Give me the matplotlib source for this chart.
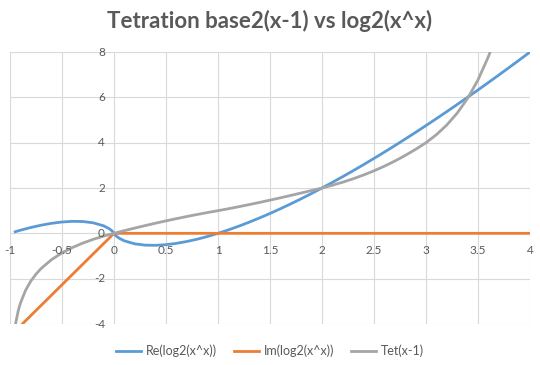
import matplotlib
matplotlib.use("Agg")
import matplotlib.pyplot as plt
from matplotlib.transforms import offset_copy

plt.rcParams["font.family"] = ["Lato", "DejaVu Sans"]

# values
x_re = [-0.95, -0.9, -0.8, -0.7, -0.6, -0.5, -0.4, -0.3, -0.2, -0.1, -0.05, -0.02, 0,
        0.02, 0.05, 0.1, 0.2, 0.3, 0.4, 0.5, 0.6, 0.7, 0.8, 0.9, 1.0,
        1.1, 1.2, 1.3, 1.4, 1.5, 1.6, 1.7, 1.8, 1.9, 2.0,
        2.1, 2.2, 2.3, 2.4, 2.5, 2.6, 2.7, 2.8, 2.9, 3.0,
        3.1, 3.2, 3.3, 3.4, 3.5, 3.6, 3.7, 3.8, 3.9, 4.0]
re_vals = [0.070, 0.137, 0.258, 0.360, 0.442, 0.500, 0.529, 0.521, 0.464, 0.332, 0.216, 0.113, 0,
           -0.113, -0.216, -0.332, -0.464, -0.521, -0.529, -0.500, -0.442, -0.360, -0.258, -0.137, 0,
           0.151, 0.316, 0.492, 0.680, 0.877, 1.085, 1.301, 1.526, 1.759, 2.000,
           2.248, 2.502, 2.764, 3.031, 3.305, 3.584, 3.869, 4.159, 4.455, 4.755,
           5.060, 5.370, 5.684, 6.003, 6.326, 6.653, 6.984, 7.319, 7.657, 8.000]

x_im = [-0.95, 0, 4]
im_vals = [-4.31, 0, 0]

x_tet = [-0.95, -0.92, -0.9, -0.85, -0.8, -0.75, -0.7, -0.6, -0.5, -0.4, -0.3, -0.2, -0.1, -0.05, -0.02, 0,
         0.02, 0.05, 0.1, 0.2, 0.3, 0.4, 0.5, 0.6, 0.7, 0.8, 0.9, 1.0,
         1.1, 1.2, 1.3, 1.4, 1.5, 1.6, 1.7, 1.8, 1.9, 2.0,
         2.1, 2.2, 2.3, 2.4, 2.5, 2.6, 2.7, 2.8, 2.9, 3.0,
         3.1, 3.2, 3.3, 3.4, 3.5, 3.6, 3.65, 3.7]
tet_vals = [-4.071, -3.40, -3.083, -2.510, -2.108, -1.798, -1.548, -1.158, -0.863, -0.626, -0.431, -0.265, -0.123, -0.060, -0.023, 0,
            0.024, 0.060, 0.118, 0.232, 0.342, 0.448, 0.550, 0.648, 0.742, 0.832, 0.918, 1.000,
            1.085, 1.175, 1.268, 1.364, 1.464, 1.567, 1.673, 1.780, 1.890, 2.000,
            2.122, 2.257, 2.407, 2.574, 2.759, 2.963, 3.188, 3.435, 3.705, 4.000,
            4.352, 4.780, 5.305, 5.955, 6.769, 7.796, 8.412, 9.111]

x_ticks = [-1, -0.5, 0, 0.5, 1, 1.5, 2, 2.5, 3, 3.5, 4]
x_tick_labels = ["-1", "-0.5", "0", "0.5", "1", "1.5", "2", "2.5", "3", "3.5", "4"]
y_ticks = [-4, -2, 0, 2, 4, 6, 8]

fig = plt.figure(figsize=(5.4, 3.65), dpi=100)
ax = fig.add_axes([10/540, 1 - 324/365, 520/540, 272/365])
ax.set_xlim(-1, 4)
ax.set_ylim(-4, 8)
ax.set_xticks(x_ticks)
ax.set_yticks(y_ticks)
ax.grid(True, color="#d9d9d9", lw=0.8)
ax.tick_params(length=0, labelbottom=False, labelleft=False)
for s in ax.spines.values():
    s.set_visible(False)

ax.plot(x_re, re_vals, color="#5b9bd5", lw=2, label="Re(log2(x^x))", zorder=3)
ax.plot(x_im, im_vals, color="#ed7d31", lw=2, label="Im(log2(x^x))", zorder=3)
ax.plot(x_tet, tet_vals, color="#a5a5a5", lw=2, label="Tet(x-1)", zorder=3)

# axis labels sit on the axes crossing at 0, like Excel
below = offset_copy(ax.transData, fig=fig, x=0, y=-17, units="dots")
left = offset_copy(ax.transData, fig=fig, x=-9, y=0, units="dots")
for xv, lab in zip(x_ticks, x_tick_labels):
    ax.text(xv, 0, lab, transform=below, ha="center", va="center",
            fontsize=8.5, color="#595959", clip_on=False)
for yv in y_ticks:
    ax.text(0, yv, str(yv), transform=left, ha="right", va="center",
            fontsize=8.5, color="#595959", clip_on=False)

fig.text(0.5, 1 - 21/365, "Tetration base2(x-1) vs log2(x^x)", ha="center", va="center",
         fontsize=16, fontweight="bold", color="#595959")

fig.legend(loc="center", bbox_to_anchor=(0.5, 1 - 351/365), ncol=3, frameon=False,
           fontsize=9, handlelength=2.0, handletextpad=0.35, columnspacing=1.4,
           labelcolor="#595959")

fig.savefig("out.png", dpi=100)
